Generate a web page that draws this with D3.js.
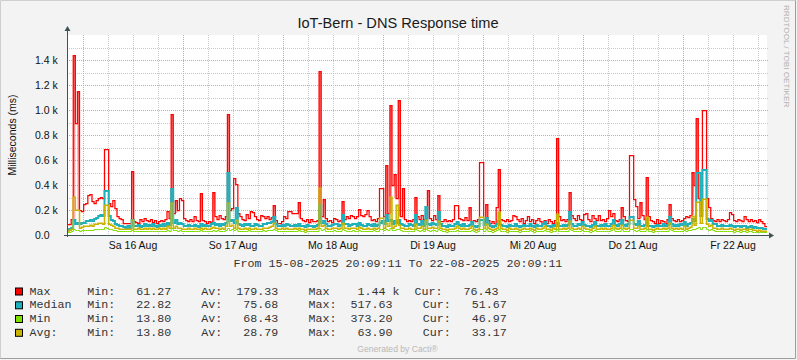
<!DOCTYPE html>
<html><head><meta charset="utf-8">
<script src="https://cdn.jsdelivr.net/npm/d3@7"></script>
<style>
body{margin:0;background:#f3f3f3}
svg{display:block}
.mono{font-family:"Liberation Mono","DejaVu Sans Mono",monospace;font-size:11.67px;white-space:pre}
.sans{font-family:"Liberation Sans",Arial,sans-serif}
</style>
</head><body>
<svg id="chart" width="797" height="360"></svg>
<script>
// ---------- DATA (30-minute consolidated points, ms) ----------
const maxSeries = [
90,88,130,1440,900,1150,200,190,250,260,320,330,270,260,280,300,305,300,690,690,260,230,280,220,
150,140,130,100,95,100,95,510,110,105,100,125,115,140,120,110,130,105,120,100,115,120,110,130,
190,140,965,180,280,200,300,280,140,120,110,130,115,150,120,110,335,120,110,100,115,105,345,150,
130,160,140,130,150,970,200,220,460,410,180,150,130,120,170,140,190,185,150,130,120,160,150,140,
150,130,145,240,120,100,95,110,150,140,190,195,180,175,180,265,140,120,110,125,105,130,110,115,
120,1310,150,285,140,110,120,105,140,130,115,120,270,130,150,140,160,150,135,150,210,160,155,165,
200,150,120,130,110,140,380,380,150,560,180,1040,400,490,300,1080,150,373,130,115,120,110,130,307,
150,130,160,125,130,360,140,120,160,130,320,115,110,125,115,120,110,130,240,240,140,130,120,145,
120,221,115,120,110,125,584,584,130,248,120,100,110,95,221,525,130,120,110,130,115,120,160,150,
130,110,140,100,120,150,110,130,100,120,140,110,90,120,100,130,115,95,120,773,150,120,130,110,
125,347,160,140,120,160,130,120,170,175,130,110,160,140,120,160,120,130,115,140,200,150,173,120,
110,130,221,150,120,110,640,640,285,232,140,267,160,130,461,150,120,110,100,130,95,120,110,100,
125,248,140,120,115,125,110,120,140,150,145,160,501,400,940,300,245,1000,1000,300,221,140,120,110,
130,115,125,120,110,130,187,170,120,110,130,120,115,150,125,110,130,115,120,105,125,110,95,76
];
const medianSeries = [
40,45,60,120,90,100,90,100,100,110,115,120,110,130,140,150,160,150,352,352,150,120,110,90,
80,75,70,65,60,70,60,120,75,70,80,65,75,90,70,80,75,85,70,65,80,75,90,70,
100,80,365,100,120,90,100,85,70,75,80,70,75,80,70,65,90,70,80,75,70,85,100,80,
90,75,85,80,100,499,110,120,100,213,90,80,75,85,80,90,70,75,85,80,75,70,90,85,
95,100,107,147,90,75,70,80,75,85,80,70,75,80,70,90,75,70,65,80,75,70,65,75,
80,240,100,110,85,70,75,80,90,85,75,80,160,90,85,75,80,90,85,75,100,80,75,70,
85,80,75,90,70,80,100,110,90,160,110,120,90,110,100,120,90,80,70,75,85,80,70,160,
90,80,110,75,227,90,80,100,90,80,187,90,75,70,65,80,70,75,85,107,80,75,85,70,
75,80,107,70,65,75,120,120,80,133,85,70,65,75,90,110,80,75,70,65,80,70,75,85,
70,65,75,80,70,75,90,70,65,80,75,70,85,107,75,70,65,80,75,95,70,75,80,70,
80,187,90,75,70,85,80,107,80,70,75,65,80,107,75,70,80,75,85,70,75,90,120,80,
75,85,120,80,75,85,147,147,90,80,110,75,70,80,133,75,70,65,75,80,70,75,85,70,
80,147,90,75,80,70,85,80,107,75,90,95,130,110,493,493,150,520,520,130,110,120,90,85,
75,70,80,75,70,75,80,70,65,75,70,65,70,75,60,65,70,60,65,55,60,55,50,52
];
const minSeries = [
35,40,50,307,200,200,60,65,70,75,70,80,75,85,90,95,100,90,240,240,90,80,70,60,
55,50,45,50,45,50,45,120,50,45,55,45,50,60,45,55,50,55,45,50,55,50,60,50,
70,55,253,60,70,55,60,50,45,50,55,45,50,55,45,50,60,50,55,50,45,55,65,55,
60,50,55,50,70,253,70,80,60,120,55,50,45,55,50,60,45,50,55,50,45,50,60,55,
60,65,70,100,60,50,45,55,50,55,50,45,50,55,45,60,50,45,40,50,45,50,45,50,
55,373,70,80,55,45,50,55,60,55,50,55,100,60,55,50,55,60,55,50,65,55,50,45,
55,50,45,60,45,55,140,140,60,100,70,307,60,70,240,80,60,55,45,50,55,50,45,90,
60,55,70,50,120,60,55,65,60,55,110,60,50,45,40,50,45,50,55,70,55,50,55,45,
50,55,70,45,40,50,141,147,55,90,55,45,40,50,60,187,55,50,45,40,55,45,50,55,
45,40,50,55,45,50,60,45,40,55,50,45,55,70,50,45,40,55,50,168,45,50,55,45,
55,110,60,50,45,55,50,70,55,45,50,40,55,70,50,45,55,50,55,45,50,60,80,55,
50,55,80,55,50,55,120,120,60,55,70,50,45,55,141,50,45,40,50,55,45,50,55,45,
55,100,60,50,55,45,55,50,70,50,60,65,150,80,267,267,100,288,288,90,70,80,60,55,
50,45,55,50,45,50,55,45,40,50,45,40,45,50,40,45,45,40,40,35,38,35,33,33
];
const avgSeries = [
25,28,30,45,40,42,35,38,40,42,40,44,40,45,48,50,52,50,64,60,48,45,42,38,
35,33,30,32,30,33,30,40,32,30,34,30,32,36,30,34,32,35,30,32,34,32,36,32,
40,35,55,38,42,35,38,34,30,32,35,30,32,35,30,32,38,32,35,32,30,34,40,35,
38,32,35,32,40,55,42,45,38,48,35,32,30,35,32,38,30,32,35,32,30,32,38,35,
38,40,42,50,38,32,30,35,32,35,32,30,32,35,30,38,32,30,28,32,30,32,30,32,
35,60,42,45,35,30,32,35,38,35,32,35,50,38,35,32,35,38,35,32,40,35,32,30,
35,32,30,38,30,35,50,52,38,48,42,55,38,42,50,45,38,35,30,32,35,32,30,45,
38,35,42,32,50,38,35,40,38,35,48,38,32,30,28,32,30,32,35,42,35,32,35,30,
32,35,42,30,28,32,48,50,35,45,35,30,28,32,38,52,35,32,30,28,35,30,32,35,
30,28,32,35,30,32,38,30,28,35,32,30,35,42,32,30,28,35,32,50,30,32,35,30,
35,48,38,32,30,35,32,42,35,30,32,28,35,42,32,30,35,32,35,30,32,38,45,35,
32,35,45,35,32,35,50,50,38,35,42,32,30,35,48,32,30,28,32,35,30,32,35,30,
35,48,38,32,35,30,35,32,42,32,38,40,52,45,60,62,48,64,63,45,40,45,38,35,
32,30,35,32,30,32,35,30,28,32,30,28,30,32,28,30,30,28,28,25,27,25,24,25
];

const yTickValues = [0,200,400,600,800,1000,1200,1400];
const dayNames = ["So","Mo","Di","Mi","Do","Fr","Sa"];
const legendLabels = ["Max","Median","Min","Avg:"];
const legendMin = ["61.27","22.82","13.80","13.80"];
const legendAv  = ["179.33","75.68","68.43","28.79"];
const legendMax = ["1.44 k","517.63","373.20","63.90"];
const legendCur = ["76.43","51.67","46.97","33.17"];

const titleText = "IoT-Bern - DNS Response time";
const yLabelText = "Milliseconds (ms)";
const periodText = "From 15-08-2025 20:09:11 To 22-08-2025 20:09:11";

// ---------- LAYOUT ----------
const W = 797, H = 360;
const PL = 67, PR = 767, PT = 35, PB = 235;
const t0 = Date.UTC(2025,7,15,20,9,11);
const t1 = Date.UTC(2025,7,22,20,9,11);
const STEP = 1800e3;

const svg = d3.select("#chart");
const x = d3.scaleUtc().domain([t0, t1]).range([PL, PR]);
const y = d3.scaleLinear().domain([0, 1600]).range([PB, PT]);

// background + frame
svg.append("rect").attr("width", W).attr("height", H).attr("fill", "#f3f3f3");
svg.append("path").attr("d", `M0.5,${H-1}V0.5H${W-1}`).attr("fill","none").attr("stroke","#cfcfcf");
svg.append("path").attr("d", `M0.5,${H-1.5}H${W-1.5}V0.5`).attr("fill","none").attr("stroke","#9e9e9e");

// canvas
svg.append("rect").attr("x", PL).attr("y", PT).attr("width", PR-PL).attr("height", PB-PT).attr("fill", "#fff");

// grid
const gGrid = svg.append("g").attr("shape-rendering","crispEdges").attr("fill","none");
d3.range(100, 1600, 100).forEach(v => {
  const yy = Math.round(y(v)) + 0.5;
  gGrid.append("line").attr("x1", PL).attr("x2", PR+1).attr("y1", yy).attr("y2", yy)
    .attr("stroke", v % 200 === 0 ? "#e99a9a" : "#c9c9c9").attr("stroke-dasharray","1,1");
});
d3.utcHour.every(6).range(new Date(t0), new Date(t1)).forEach(d => {
  const xx = Math.round(x(d)) + 0.5;
  const major = d.getUTCHours() === 0;
  gGrid.append("line").attr("x1", xx).attr("x2", xx).attr("y1", PT).attr("y2", PB)
    .attr("stroke", major ? "#e99a9a" : "#c9c9c9").attr("stroke-dasharray","1,1");
});

// series
const defs = svg.append("defs");
const clip = defs.append("clipPath").attr("id","plotclip");
clip.append("rect").attr("x", PL).attr("y", PT-2).attr("width", PR-PL+1).attr("height", PB-PT+2);
const grad = defs.append("linearGradient").attr("id","spikeFill").attr("x1",0).attr("x2",0).attr("y1",0).attr("y2",1);
grad.append("stop").attr("offset","0%").attr("stop-color","#ff3030").attr("stop-opacity",0.75);
grad.append("stop").attr("offset","100%").attr("stop-color","#ff5050").attr("stop-opacity",0.45);
const gData = svg.append("g").attr("clip-path","url(#plotclip)");

function pts(arr){
  const p = arr.map((v,i)=>({t: t0 + i*STEP, v}));
  p.push({t: t1, v: arr[arr.length-1]});
  return p;
}
// fill of isolated single-sample peaks (rendered solid like the reference)
function spikeFills(arr){
  const peaks = [];
  arr.forEach((v,i) => {
    const a = i > 0 ? arr[i-1] : v, b = i < arr.length-1 ? arr[i+1] : v;
    if (v - Math.max(a,b) > 60) peaks.push({i, top: v, base: Math.min(a,b)});
  });
  gData.append("g").selectAll("rect").data(peaks).join("rect")
    .attr("x", d => x(t0 + d.i*STEP))
    .attr("width", d => x(t0 + (d.i+1)*STEP) - x(t0 + d.i*STEP))
    .attr("y", d => Math.round(y(d.top)))
    .attr("height", d => Math.round(y(d.base)) - Math.round(y(d.top)))
    .attr("fill","url(#spikeFill)");
}
function drawSeries(arr, color, width, yOff){
  const line = d3.line()
    .x(d => x(d.t))
    .y(d => Math.round(y(d.v)) + yOff)
    .curve(d3.curveStepAfter);
  gData.append("path").datum(pts(arr)).attr("d", line)
    .attr("fill","none").attr("stroke", color).attr("stroke-width", width)
    .attr("stroke-linejoin","miter");
}
spikeFills(maxSeries);
drawSeries(maxSeries, "#ff0000", 1.25, 0.5);
drawSeries(medianSeries, "#1fb0ba", 2, 0);
drawSeries(minSeries, "#c8b400", 1.5, 0.25);
drawSeries(avgSeries, "#7fe000", 1, 0.5);

// axes
const axisColor = "#3f5353";
svg.append("line").attr("x1", PL+0.5).attr("x2", PL+0.5).attr("y1", PB+2).attr("y2", PT-5)
  .attr("stroke", axisColor).attr("shape-rendering","crispEdges");
svg.append("line").attr("x1", PL-3).attr("x2", PR+2).attr("y1", PB+0.5).attr("y2", PB+0.5)
  .attr("stroke", axisColor).attr("shape-rendering","crispEdges");
svg.append("path").attr("d", `M${PL+0.5-3},${PT-4}L${PL+0.5+3},${PT-4}L${PL+0.5},${PT-9}Z`).attr("fill", axisColor);
svg.append("path").attr("d", `M${PR+2},${PB+0.5-3}L${PR+2},${PB+0.5+3}L${PR+7},${PB+0.5}Z`).attr("fill", axisColor);

// y tick labels
svg.append("g").selectAll("text").data(yTickValues).join("text")
  .attr("class","sans").attr("x", 35).attr("y", v => y(v) + 3.8)
  .attr("font-size", "10.5px").attr("fill", "#111")
  .text(v => v === 0 ? "0.0" : (v/1000).toFixed(1) + " k");

// x labels (noon of each day)
const noons = d3.utcDay.range(new Date(t0), new Date(t1)).map(d => d3.utcHour.offset(d, 12)).filter(d => +d > t0 && +d < t1);
svg.append("g").selectAll("text").data(noons).join("text")
  .attr("class","sans").attr("x", d => x(d)).attr("y", 249.3).attr("text-anchor","middle")
  .attr("font-size","10.5px").attr("fill","#111")
  .text(d => `${dayNames[d.getUTCDay()]} ${d.getUTCDate()} Aug`);

// title
svg.append("text").attr("class","sans").attr("x", 398).attr("y", 28).attr("text-anchor","middle")
  .attr("font-size","14.6px").attr("fill","#1a1a1a").text(titleText);

// y label
svg.append("text").attr("class","sans").attr("transform","translate(15.5,135) rotate(-90)")
  .attr("text-anchor","middle").attr("font-size","10.5px").attr("fill","#111").text(yLabelText);

// watermark
svg.append("text").attr("class","sans").attr("transform","translate(783.5,5) rotate(90)")
  .attr("font-size","8.1px").attr("fill","#b0b0b0").text("RRDTOOL / TOBI OETIKER");

// period line
svg.append("text").attr("class","mono").attr("x", 398).attr("y", 266.5).attr("text-anchor","middle")
  .attr("fill","#333").text(periodText);

// legend
const legendColors = ["#ff0000","#1fb0ba","#7fe000","#c8b400"];
const rowY = [294.5, 308.3, 322.0, 335.8];
legendLabels.forEach((lab, i) => {
  const g = svg.append("g");
  g.append("rect").attr("x", 15.5).attr("y", rowY[i]-6.5).attr("width", 7).attr("height", 7)
    .attr("fill", legendColors[i]).attr("stroke","#000").attr("stroke-width",1);
  const t = (xx, s) => g.append("text").attr("class","mono").attr("x", xx).attr("y", rowY[i]).attr("fill","#333").text(s);
  t(29.5, lab);
  t(87.2, "Min:" + legendMin[i].padStart(8));
  t(201.2, "Av:" + legendAv[i].padStart(8));
  if (i === 0) t(308.5, "Max" + legendMax[i].padStart(10));
  else t(308.5, "Max:" + legendMax[i].padStart(8));
  t(i === 0 ? 414.5 : 422.8, "Cur:" + legendCur[i].padStart(8));
});

// footer
svg.append("text").attr("class","sans").attr("x", 397.5).attr("y", 351.5).attr("text-anchor","middle")
  .attr("font-size","8.6px").attr("fill","#b8b8b8").text("Generated by Cacti®");
</script>
</body></html>
